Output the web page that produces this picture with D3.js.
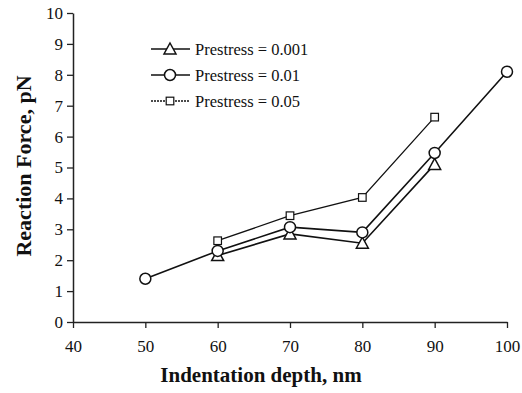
<!DOCTYPE html>
<html>
<head>
<meta charset="utf-8">
<script src="https://cdn.jsdelivr.net/npm/d3@7"></script>
<style>
  body { margin: 0; background: #fff; }
  svg { font-family: "Liberation Serif", "Times New Roman", serif; }
</style>
</head>
<body>
<div id="chart"></div>
<script>
// data
var depthA = [60, 70, 80, 90];
var forceA = [2.15, 2.85, 2.55, 5.1];      // Prestress = 0.001
var depthB = [50, 60, 70, 80, 90, 100];
var forceB = [1.4, 2.3, 3.07, 2.9, 5.47, 8.1]; // Prestress = 0.01
var depthC = [60, 70, 80, 90];
var forceC = [2.63, 3.44, 4.03, 6.63];     // Prestress = 0.05
var seriesNames = ["Prestress = 0.001", "Prestress = 0.01", "Prestress = 0.05"];
var xTicks = [40, 50, 60, 70, 80, 90, 100];
var yTicks = [0, 1, 2, 3, 4, 5, 6, 7, 8, 9, 10];

var W = 522, H = 393;
var margin = {top: 13, right: 15, bottom: 71, left: 73},
    width = W - margin.left - margin.right,
    height = H - margin.top - margin.bottom;

var x = d3.scaleLinear().domain([40, 100]).range([0, width]);
var y = d3.scaleLinear().domain([0, 10]).range([height, 0]);

var svg = d3.select("#chart").append("svg")
    .attr("width", W)
    .attr("height", H);

var g = svg.append("g")
    .attr("transform", "translate(" + margin.left + "," + margin.top + ")");

var xAxis = d3.axisBottom(x).tickValues(xTicks).tickSize(6).tickSizeOuter(0).tickPadding(12);
var yAxis = d3.axisLeft(y).tickValues(yTicks).tickSize(6).tickSizeOuter(0).tickPadding(4);

var xg = g.append("g")
    .attr("transform", "translate(0," + height + ")")
    .call(xAxis);
var yg = g.append("g").call(yAxis);

[xg, yg].forEach(function(a) {
  a.select(".domain").attr("stroke", "#222").attr("stroke-width", 1.5);
  a.selectAll(".tick line").attr("stroke", "#222").attr("stroke-width", 1.3);
  a.selectAll(".tick text")
    .attr("fill", "#111")
    .style("font-size", "17px")
    .style("font-family", "'Liberation Serif', serif");
});

// axis titles
svg.append("text")
    .attr("x", 261)
    .attr("y", 382)
    .attr("text-anchor", "middle")
    .style("font-size", "21px")
    .style("font-weight", "bold")
    .attr("fill", "#111")
    .text("Indentation depth, nm");

svg.append("text")
    .attr("transform", "translate(31,166) rotate(-90)")
    .attr("text-anchor", "middle")
    .style("font-size", "22px")
    .style("font-weight", "bold")
    .attr("fill", "#111")
    .text("Reaction Force, pN");

var line = d3.line()
    .x(function(d) { return x(d[0]); })
    .y(function(d) { return y(d[1]); });

function pairs(xs, ys) {
  return xs.map(function(v, i) { return [v, ys[i]]; });
}

var series = [
  {name: seriesNames[0], pts: pairs(depthA, forceA), marker: "tri", sw: 1.6},
  {name: seriesNames[1], pts: pairs(depthB, forceB), marker: "circ", sw: 1.6},
  {name: seriesNames[2], pts: pairs(depthC, forceC), marker: "sq", sw: 1.3}
];

function drawMarker(sel, type) {
  if (type === "tri") {
    sel.append("path")
      .attr("d", "M0,-6L6,5L-6,5Z")
      .attr("fill", "#fff").attr("stroke", "#111").attr("stroke-width", 1.5);
  } else if (type === "circ") {
    sel.append("circle")
      .attr("r", 5.5)
      .attr("fill", "#fff").attr("stroke", "#111").attr("stroke-width", 1.5);
  } else {
    sel.append("rect")
      .attr("x", -3.8).attr("y", -3.8).attr("width", 7.6).attr("height", 7.6)
      .attr("fill", "#fff").attr("stroke", "#111").attr("stroke-width", 1.2);
  }
}

series.forEach(function(s) {
  g.append("path")
    .datum(s.pts)
    .attr("fill", "none")
    .attr("stroke", "#111")
    .attr("stroke-width", s.sw)
    .attr("d", line);
});
series.forEach(function(s) {
  g.selectAll(".m-" + s.marker)
    .data(s.pts)
    .enter()
    .append("g")
    .attr("class", "m-" + s.marker)
    .attr("transform", function(d) { return "translate(" + x(d[0]) + "," + y(d[1]) + ")"; })
    .each(function() { drawMarker(d3.select(this), s.marker); });
});

// legend
var legend = svg.append("g").attr("transform", "translate(151,49)");
series.forEach(function(s, i) {
  var row = legend.append("g").attr("transform", "translate(0," + [0, 26, 52][i] + ")");
  row.append("line")
    .attr("x1", 0).attr("x2", 39).attr("y1", 0).attr("y2", 0)
    .attr("stroke", "#111").attr("stroke-width", s.sw)
    .attr("stroke-dasharray", i === 2 ? "2,1" : null);
  var mk = row.append("g").attr("transform", "translate(19,0)");
  drawMarker(mk, s.marker);
  row.append("text")
    .attr("x", 44).attr("y", 5.5)
    .style("font-size", "16.5px")
    .attr("fill", "#111")
    .text(s.name);
});
</script>
</body>
</html>
